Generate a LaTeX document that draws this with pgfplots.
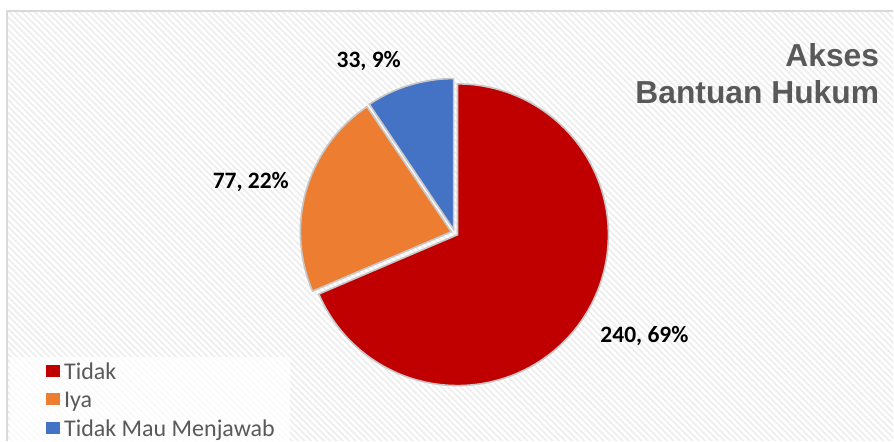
\documentclass[border=0pt]{standalone}
\usepackage{pgfplots}
\pgfplotsset{compat=1.18}
\usepackage{pgfplotstable}
\usepackage{fontspec}
\setmainfont{Carlito}
\newfontfamily\titlefont{Liberation Sans}
\usetikzlibrary{patterns.meta}
\definecolor{cRed}{HTML}{C00000}
\definecolor{cOrange}{HTML}{ED7D31}
\definecolor{cBlue}{HTML}{4472C4}
\definecolor{cTitle}{HTML}{595959}
\definecolor{cFrame}{HTML}{D9D9D9}
\definecolor{cStripe}{HTML}{EDEDED}
\definecolor{cEdge}{HTML}{C8C8C8}

\pgfplotstableread{
label value
Tidak 240
Iya 77
TidakMau 33
}\piedata

\pgfplotsset{sqlegend/.style={legend image code/.code={\fill[##1] (0pt,-5pt) rectangle (14pt,7pt); \path (0pt,0pt) -- (16pt,0pt);}}}

\begin{document}
\begin{tikzpicture}
\pgfplotstablegetelem{0}{value}\of\piedata \let\va\pgfplotsretval
\pgfplotstablegetelem{1}{value}\of\piedata \let\vb\pgfplotsretval
\pgfplotstablegetelem{2}{value}\of\piedata \let\vc\pgfplotsretval
\pgfmathsetmacro\tot{\va+\vb+\vc}
% angles (counter-clockwise from east), slices run clockwise from 12 o'clock
\pgfmathsetmacro\aA{90}
\pgfmathsetmacro\aB{90-360*(\va/\tot)}
\pgfmathsetmacro\aC{\aB-360*(\vb/\tot)}
\pgfmathsetmacro\aD{\aC-360*(\vc/\tot)}
\pgfmathsetmacro\cx{455}
\pgfmathsetmacro\cy{233}
\pgfmathsetmacro\R{151}
\pgfmathsetmacro\d{3.5}
\pgfmathsetmacro\mA{(\aA+\aB)/2}
\pgfmathsetmacro\mB{(\aB+\aC)/2}
\pgfmathsetmacro\mC{(\aC+\aD)/2}
\pgfmathsetmacro\xA{\cx+\d*cos(\mA)}
\pgfmathsetmacro\yA{\cy-\d*sin(\mA)}
\pgfmathsetmacro\xB{\cx+\d*cos(\mB)}
\pgfmathsetmacro\yB{\cy-\d*sin(\mB)}
\pgfmathsetmacro\xC{\cx+\d*cos(\mC)}
\pgfmathsetmacro\yC{\cy-\d*sin(\mC)}
\begin{axis}[
  width=894pt, height=441pt, scale only axis,
  xmin=0, xmax=894, ymin=0, ymax=441, y dir=reverse,
  axis lines=none, clip=false,
  legend style={at={(axis cs:36,361)}, anchor=north west, draw=none,
    fill=none,
    font=\fontsize{24}{26}\selectfont\color{cTitle},
    inner xsep=10pt, inner ysep=0pt, row sep=7pt,
    cells={anchor=west}},
  legend cell align=left,
]
% background and frame
\fill[white] (axis cs:0,0) rectangle (axis cs:894,441);
\fill[pattern={Lines[angle=-45,distance=4.5pt,line width=1.6pt]}, pattern color=cStripe]
  (axis cs:7,11) rectangle (axis cs:894,441);
\draw[cFrame, line width=1.5pt] (axis cs:7,441) -- (axis cs:7,11) -- (axis cs:894,11);
\fill[white, opacity=0.75] (axis cs:10,357) rectangle (axis cs:290,441);

% slices
\addplot[forget plot, fill=cRed, draw=cEdge, line width=1.6pt, domain=\aB:\aA, samples=120, variable=\t]
  ({\xA+\R*cos(\t)},{\yA-\R*sin(\t)}) -- (axis cs:\xA,\yA) -- cycle;
\addplot[forget plot, fill=cOrange, draw=cEdge, line width=1.6pt, domain=\aC:\aB, samples=50, variable=\t]
  ({\xB+\R*cos(\t)},{\yB-\R*sin(\t)}) -- (axis cs:\xB,\yB) -- cycle;
\addplot[forget plot, fill=cBlue, draw=cEdge, line width=1.6pt, domain=\aD:\aC, samples=30, variable=\t]
  ({\xC+\R*cos(\t)},{\yC-\R*sin(\t)}) -- (axis cs:\xC,\yC) -- cycle;

% legend
\addlegendimage{sqlegend, fill=cRed, draw=none}
\addlegendentry{Tidak}
\addlegendimage{sqlegend, fill=cOrange, draw=none}
\addlegendentry{Iya}
\addlegendimage{sqlegend, fill=cBlue, draw=none}
\addlegendentry{Tidak Mau Menjawab}

% data labels
\node[anchor=base, font=\fontsize{23.5}{26}\selectfont\bfseries] at (axis cs:369,68) {33, 9\%};
\node[anchor=base, font=\fontsize{23.5}{26}\selectfont\bfseries] at (axis cs:251,189) {77, 22\%};
\node[anchor=base, font=\fontsize{23.5}{26}\selectfont\bfseries] at (axis cs:645,343) {240, 69\%};

% title
\node[anchor=base east, font=\titlefont\fontsize{31.8}{36}\selectfont\bfseries, text=cTitle, inner sep=0pt] at (axis cs:880,67) {Akses};
\node[anchor=base east, font=\titlefont\fontsize{31.8}{36}\selectfont\bfseries, text=cTitle, inner sep=0pt] at (axis cs:880,104) {Bantuan Hukum};
\end{axis}
\end{tikzpicture}
\end{document}
